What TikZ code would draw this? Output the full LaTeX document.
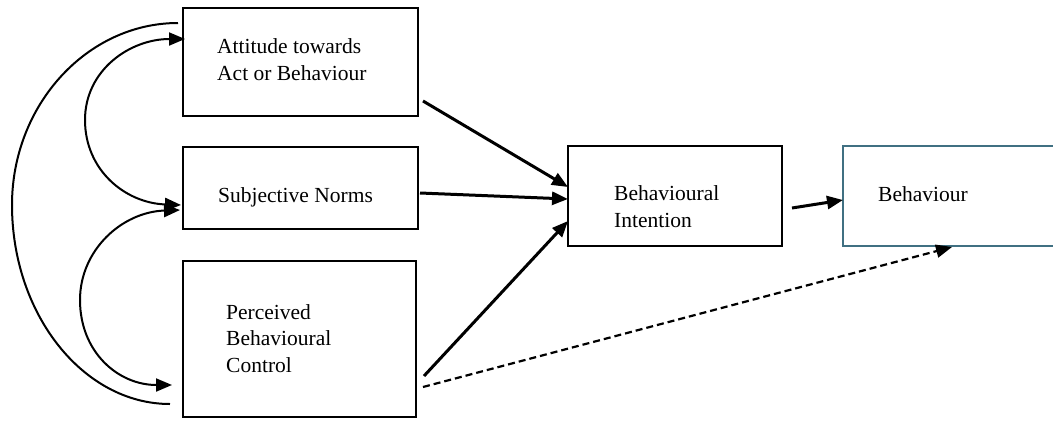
\documentclass[tikz,border=0pt]{standalone}
\usepackage{fontspec}
\setmainfont{Liberation Serif}
\usetikzlibrary{arrows.meta,calc}
\definecolor{tealbox}{RGB}{64,112,130}
\begin{document}
\begin{tikzpicture}[x=1pt,y=-1pt,
  box/.style={draw=black,line width=2pt,minimum width=#1,inner sep=0pt,outer sep=0pt},
  lbl/.style={anchor=base west,inner sep=0pt,align=left,font=\fontsize{21.5}{26.5}\selectfont},
  flow/.style={line width=3pt,-{Triangle[length=16pt,width=13pt]}},
  corr/.style={line width=2pt,{Triangle[length=16pt,width=13pt]}-{Triangle[length=16pt,width=13pt]}},
  arcline/.style={line width=2pt},
  dashflow/.style={line width=2.2pt,dash pattern=on 7pt off 4pt,-{Triangle[length=16pt,width=13pt]}}]
\useasboundingbox (0,0) rectangle (1053,421);
% boxes
\node[box=235pt,minimum height=108pt] (A) at (300.5,62) {};
\node[box=235pt,minimum height=82pt] (S) at (300.5,188) {};
\node[box=233pt,minimum height=156pt] (P) at (299.5,339) {};
\node[box=214pt,minimum height=100pt] (BI) at (675,196) {};
\node[box=215pt,minimum height=100pt,draw=tealbox] (B) at (950.5,196) {};
% labels (base = last line)
\node[lbl] (tA) at (217,80) {Attitude towards\\Act or Behaviour};
\node[lbl] (tS) at (218,202) {Subjective Norms};
\node[lbl] (tP) at (226,372) {Perceived\\Behavioural\\Control};
\node[lbl] (tBI) at (614,227) {Behavioural\\Intention};
\node[lbl] (tB) at (878,201) {Behaviour};
% straight arrows
\draw[flow] ($(A.south east)+(5,-15)$) -- ($(BI.west)+(0,-9)$);
\draw[flow] ($(S.east)+(2,5)$) -- ($(BI.west)+(0,3)$);
\draw[flow] ($(P.east)+(8,37)$) -- ($(BI.west)+(0,25)$);
\draw[flow] ($(BI.east)+(10,12)$) -- ($(B.west)+(0,4)$);
\draw[dashflow] ($(P.east)+(7,48)$) -- ($(B.south)+(1.5,1)$);
% curved correlations
\draw[arcline] ($(A.west)+(-5,-39)$) .. controls (87,23) and (12,105) .. (12,205)
  .. controls (12,314) and (83,404) .. ($(P.west)+(-13,65)$);
\draw[corr] ($(A.west)+(2,-23)$) .. controls (130,39) and (85,70) .. (85,120)
  .. controls (85,170) and (125,203) .. ($(S.west)+(-2,17)$);
\draw[corr] ($(S.west)+(-3,22)$) .. controls (122,212) and (80,250) .. (80,300)
  .. controls (80,352) and (118,385) .. ($(P.west)+(-11,46)$);
\end{tikzpicture}
\end{document}
